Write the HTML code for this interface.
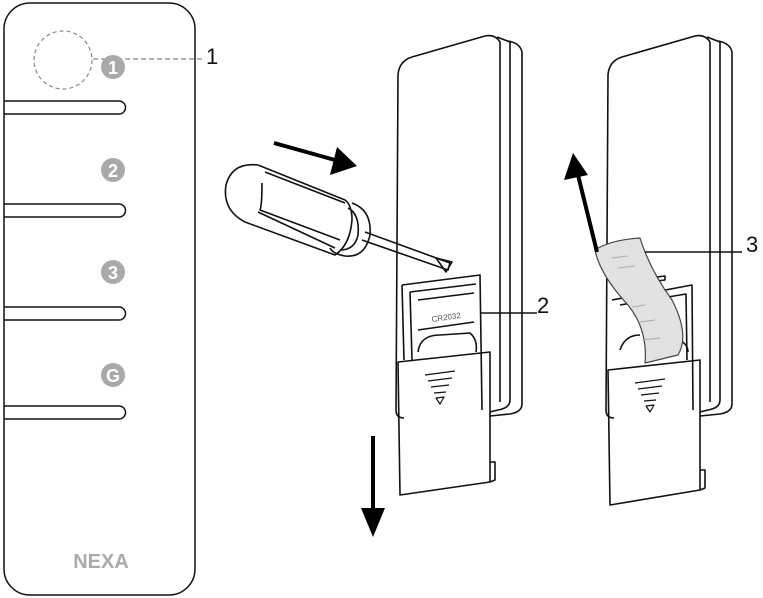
<!DOCTYPE html>
<html><head><style>body{margin:0;background:#fff}svg{display:block}text{font-family:"Liberation Sans",sans-serif}</style></head><body>
<svg width="763" height="598" viewBox="0 0 763 598" xmlns="http://www.w3.org/2000/svg" fill="none" stroke="#111" stroke-width="1.6" stroke-linejoin="round">
<!-- left remote -->
<rect x="4" y="3" width="191" height="592" rx="26" stroke-width="1.5"/>
<circle cx="63" cy="60" r="29" stroke="#888" stroke-dasharray="4,3" stroke-width="1.2"/>
<line x1="93" y1="59" x2="205" y2="59" stroke="#888" stroke-dasharray="5,3" stroke-width="1.2"/>
<text x="206" y="64" font-size="22" fill="#111" stroke="none">1</text>
<g stroke-width="1.5">
<path d="M4 101 H119 a6.5 6.5 0 0 1 0 13 H4"/>
<path d="M4 204 H119 a6.5 6.5 0 0 1 0 13 H4"/>
<path d="M4 307 H119 a6.5 6.5 0 0 1 0 13 H4"/>
<path d="M4 406 H119 a6.5 6.5 0 0 1 0 13 H4"/>
</g>
<g fill="#a9a9a9" stroke="none">
<circle cx="113" cy="67" r="12"/><circle cx="113" cy="170" r="12"/><circle cx="113" cy="272" r="12"/><circle cx="113" cy="375" r="12"/>
</g>
<g fill="#fff" stroke="none" font-size="18" font-weight="bold" text-anchor="middle">
<text x="113" y="74">1</text><text x="113" y="177">2</text><text x="113" y="279">3</text><text x="113" y="382">G</text>
</g>
<text x="101" y="568" font-size="20" font-weight="bold" fill="#aaa" stroke="none" text-anchor="middle">NEXA</text>
<!-- middle remote -->
<path d="M396 410 L398 75 Q399 61 412 57 L485 36 Q495 34 500 42 L500 402"/>
<path d="M396 410 Q396 418 404 418"/>
<path d="M497 37 L510 42 L510 400 Q510 408 498 410 L490 412"/>
<path d="M508 41 Q520 43 522 52 L522 404 Q522 412 510 414 L490 416"/>
<path d="M402 285 L480 275 L482 410 M402 285 L404 360 M410 292 L476 284 M410 292 L412 360"/>
<path d="M418 300 L474 293 M418 330 L474 322"/>
<text x="432" y="322" font-size="8" fill="#555" stroke="none" transform="rotate(-8 432 322)">CR2032</text>
<path d="M418 352 Q420 335 440 335 L470 333 Q478 340 476 352"/>
<path d="M398 362 L490 352 L490 482 L400 495 Z"/>
<path d="M490 462 L495 462 L495 480 L490 482"/>
<g stroke-width="1.2"><path d="M425 375 L455 371 M428 381 L452 378 M431 387 L449 385 M434 393 L446 392"/><path d="M436 398 L444 397 L440 404 Z"/></g>
<line x1="480" y1="313" x2="537" y2="313"/>
<text x="537" y="313" font-size="22" fill="#111" stroke="none">2</text>
<!-- screwdriver -->
<path d="M365 232 L450 263 L448 270 L362 240"/>
<path d="M436 258 L452 262 L446 272 Z"/>
<path d="M352 203 Q372 210 370 235 Q365 258 345 256 Q333 254 330 248"/>
<path d="M348 208 Q360 214 358 235 Q355 250 340 250"/>
<path d="M258 165 Q232 162 226 185 Q222 210 245 222 L335 255 Q350 245 352 220 Q352 205 345 200 Z"/>
<path d="M265 172 L345 203 M262 183 Q262 205 260 210 L340 240 M258 212 L335 248"/>
<!-- right remote -->
<path d="M606 410 L608 75 Q609 61 622 57 L695 36 Q705 34 710 42 L710 402"/>
<path d="M606 410 Q606 418 614 418"/>
<path d="M707 37 L720 42 L720 400 Q720 408 708 410 L700 412"/>
<path d="M718 41 Q730 43 732 52 L732 404 Q732 412 720 414 L700 416"/>
<path d="M612 300 L692 285 L693 410 M620 305 L686 294 L687 360"/>
<path d="M620 350 Q625 335 640 335 M680 340 Q688 345 688 352"/>
<path d="M648 282 L665 280 L665 276 L648 278"/>
<path d="M608 370 L700 360 L700 490 L610 505 Z"/>
<path d="M700 470 L705 470 L705 488 L700 490"/>
<g stroke-width="1.2"><path d="M635 383 L665 379 M638 389 L662 386 M641 395 L659 393 M644 401 L656 400"/><path d="M646 406 L654 405 L650 412 Z"/></g>
<path d="M595 250 Q610 240 640 238 Q650 270 672 300 Q690 335 678 355 L645 363 Q648 330 628 305 Q600 275 595 250 Z" fill="#e2e2e2" stroke="#444" stroke-width="1.2"/>
<g stroke="#aaa" stroke-width="1"><path d="M612 258 L628 256 M618 268 L635 266 M632 307 L645 305 M640 322 L655 320 M642 340 L660 338"/></g>
<line x1="645" y1="252" x2="742" y2="252"/>
<text x="746" y="252" font-size="22" fill="#111" stroke="none">3</text>
<!-- arrows -->
<g stroke-width="4" stroke="#000">
<line x1="274" y1="143" x2="335" y2="160"/>
<line x1="373" y1="436" x2="373" y2="510"/>
<line x1="597" y1="252" x2="578" y2="175"/>
</g>
<g fill="#000" stroke="none">
<path d="M357 166 L330 175 L337 147 Z"/>
<path d="M373 537 L361 508 L385 508 Z"/>
<path d="M573 153 L564 180 L588 175 Z"/>
</g>
</svg>
</body></html>
